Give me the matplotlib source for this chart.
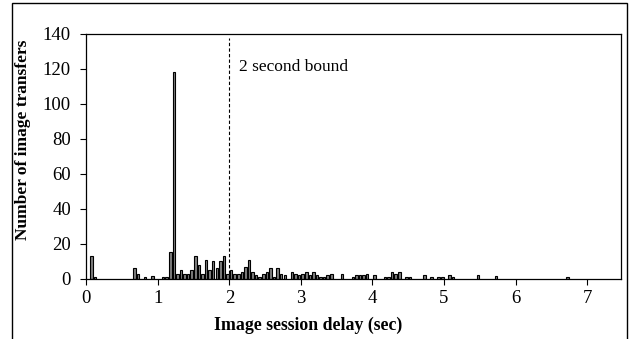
import matplotlib
matplotlib.use("Agg")
import matplotlib.pyplot as plt
from matplotlib.patches import Rectangle

# Bin centres (sec) and counts of image transfers
delay_sec = [0.075, 0.125, 0.675, 0.725, 0.825, 0.925, 1.075, 1.125, 1.175, 1.225,
             1.275, 1.325, 1.375, 1.425, 1.475, 1.525, 1.575, 1.625, 1.675, 1.725,
             1.775, 1.825, 1.875, 1.925, 1.975, 2.025, 2.075, 2.125, 2.175, 2.225,
             2.275, 2.325, 2.375, 2.425, 2.475, 2.525, 2.575, 2.625, 2.675, 2.725,
             2.775, 2.875, 2.925, 2.975, 3.025, 3.075, 3.125, 3.175, 3.225, 3.275,
             3.325, 3.375, 3.425, 3.575, 3.725, 3.775, 3.825, 3.875, 3.925, 4.025,
             4.175, 4.225, 4.275, 4.325, 4.375, 4.475, 4.525, 4.725, 4.825, 4.925,
             4.975, 5.075, 5.125, 5.475, 5.725, 6.725]
transfers = [13, 1, 6, 3, 1, 1.5, 1, 1, 15.5, 118,
             3, 5, 3, 3, 5, 13, 8, 3, 11, 5,
             10, 6, 10, 13, 3, 5, 3, 3, 4, 7,
             11, 4, 2, 1, 3, 4, 6, 1, 6, 3,
             2, 4, 3, 2, 3, 4, 2, 4, 2, 1,
             1, 2, 3, 3, 1, 2, 2, 2, 3, 2,
             1, 1, 4, 3, 4, 1, 1, 2, 1, 1,
             1, 2, 1, 2, 1.5, 1]

x_ticks = [0, 1, 2, 3, 4, 5, 6, 7]
y_ticks = [0, 20, 40, 60, 80, 100, 120, 140]
bound_sec = 2.0

plt.rcParams['font.family'] = ['Liberation Serif', 'DejaVu Serif']

fig = plt.figure(figsize=(6.29, 3.39), dpi=100)
ax = fig.add_axes([0.137, 0.177, 0.850, 0.723])

ax.bar(delay_sec, transfers, width=0.035, color='#808080', edgecolor='black',
       linewidth=0.8, zorder=2)
ax.axvline(bound_sec, color='black', linestyle=(0, (3, 2)), linewidth=0.8,
           ymax=0.985, zorder=3)
ax.text(bound_sec + 0.13, 121, '2 second bound', fontsize=12.5, va='center',
        ha='left')

ax.set_xlim(0, 7.47)
ax.set_ylim(0, 140)
ax.set_xticks(x_ticks)
ax.set_yticks(y_ticks)
ax.tick_params(axis='both', direction='out', length=4, width=0.8,
               labelsize=13.5, colors='black')
ax.tick_params(axis='x', pad=4)
ax.tick_params(axis='y', pad=7)
for s in ax.spines.values():
    s.set_linewidth(0.9)
    s.set_color('black')

ax.set_xlabel('Image session delay (sec)', fontsize=12.8, fontweight='bold',
              va='center', ha='center')
ax.xaxis.set_label_coords(0.415, -0.188)
ax.set_ylabel('Number of image transfers', fontsize=12.5, fontweight='bold',
              va='center', ha='center')
ax.yaxis.set_label_coords(-0.118, 0.567)

# outer chart frame
fig.patches.append(Rectangle((12 / 629, -0.05), 615 / 629, 1.04, fill=False,
                             edgecolor='black', linewidth=1.0,
                             transform=fig.transFigure, figure=fig))

fig.savefig('out.png', dpi=100)
